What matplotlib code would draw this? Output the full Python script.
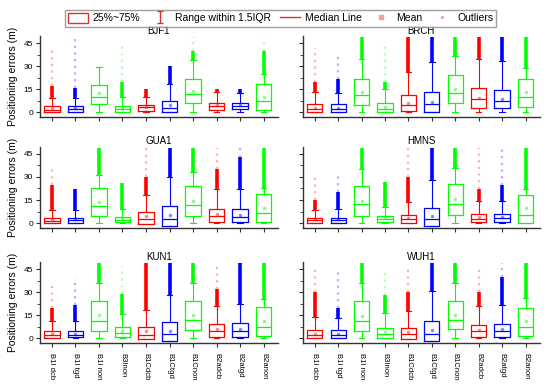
import numpy as np
import matplotlib
matplotlib.use("Agg")
import matplotlib.pyplot as plt
from matplotlib.patches import Patch
from matplotlib.lines import Line2D
from matplotlib.path import Path

plt.rcParams["font.family"] = ["Liberation Sans", "DejaVu Sans"]

stations = ["BJF1", "BRCH", "GUA1", "HMNS", "KUN1", "WUH1"]
categories = ["B1I dcb", "B1I tgd", "B1I non", "B3Inon", "B1Cdcb",
              "B1Ctgd", "B1Cnon", "B2adcb", "B2atgd", "B2anon"]
box_colors = ["#FF0000", "#0000FF", "#00FF00", "#00FF00", "#FF0000",
              "#0000FF", "#00FF00", "#FF0000", "#0000FF", "#00FF00"]

# quartiles per station (m)
q1 = [
    [0.3, 0.5, 5.4, 0.4, 1.0, 0.0, 5.8, 1.7, 2.1, 1.7],
    [0.0, 0.2, 4.8, 0.2, 0.6, 0.2, 5.9, 3.1, 2.7, 3.8],
    [0.0, 0.0, 4.5, 0.4, -0.6, -1.9, 4.9, 0.6, 0.6, 0.6],
    [0.0, 0.0, 4.9, 0.6, 0.0, -2.1, 5.1, 0.4, 0.6, 0.0],
    [0.4, 0.6, 4.5, 1.1, -0.6, -1.5, 5.4, 1.1, 1.1, 1.3],
    [0.0, 0.0, 4.7, 0.2, -0.4, -1.9, 5.8, 1.1, 0.9, 1.3],
]
med = [
    [1.8, 2.0, 10.3, 2.1, 3.2, 2.6, 11.8, 4.3, 4.3, 7.1],
    [2.1, 2.3, 11.1, 2.5, 5.0, 5.4, 12.8, 8.4, 7.5, 10.0],
    [1.5, 1.7, 11.4, 2.0, 2.8, 2.8, 12.0, 4.3, 4.1, 6.4],
    [1.9, 1.9, 12.2, 2.8, 2.4, 2.4, 12.2, 2.8, 3.2, 5.4],
    [2.1, 2.1, 11.1, 3.4, 2.4, 3.0, 12.2, 4.5, 4.7, 7.7],
    [2.1, 2.1, 11.3, 3.0, 2.8, 2.8, 12.2, 4.5, 4.7, 7.7],
]
q3 = [
    [4.0, 4.0, 17.8, 4.3, 4.7, 7.5, 21.6, 6.4, 6.4, 18.2],
    [5.4, 5.2, 22.0, 6.3, 11.1, 13.2, 24.3, 15.7, 14.9, 22.0],
    [3.4, 3.4, 22.5, 4.0, 6.9, 10.9, 23.8, 9.2, 9.2, 18.9],
    [3.4, 3.6, 24.0, 4.5, 5.4, 10.0, 25.3, 6.0, 6.2, 18.0],
    [4.7, 4.7, 24.4, 7.1, 7.1, 10.5, 24.6, 9.2, 9.9, 20.4],
    [5.5, 5.3, 24.5, 6.8, 7.0, 11.3, 24.1, 9.0, 9.2, 19.6],
]
whis_hi = [
    [9.5, 9.3, 29.6, 10.2, 10.3, 18.5, 33.9, 13.5, 12.9, 25.0],
    [13.5, 12.7, 35.0, 15.5, 26.0, 32.7, 37.0, 34.6, 33.2, 29.0],
    [8.5, 8.5, 31.0, 9.4, 18.1, 30.1, 33.0, 22.1, 22.1, 23.0],
    [8.5, 9.0, 35.0, 10.4, 13.5, 28.2, 36.0, 14.4, 14.6, 22.0],
    [11.2, 11.0, 36.0, 16.1, 18.7, 28.5, 36.0, 21.4, 22.1, 25.7],
    [13.8, 13.3, 35.8, 16.7, 18.1, 31.1, 36.0, 20.9, 21.6, 26.0],
]
means = [
    [2.8, 3.0, 12.5, 3.0, 3.5, 4.5, 14.0, 4.8, 4.8, 10.0],
    [3.0, 3.0, 13.0, 3.5, 6.2, 6.5, 15.0, 9.5, 8.5, 13.0],
    [2.5, 2.5, 13.5, 3.0, 4.5, 5.5, 14.5, 6.0, 5.5, 10.0],
    [2.5, 2.5, 14.5, 3.0, 3.5, 4.5, 15.5, 4.0, 4.0, 9.5],
    [3.0, 3.0, 15.0, 4.5, 4.5, 5.0, 15.5, 6.0, 6.0, 11.0],
    [3.0, 3.0, 14.5, 4.0, 4.0, 5.5, 15.5, 5.5, 6.0, 11.0],
]
# outliers: dense column up to out_dense, scattered up to out_max
out_dense = [
    [17, 16, 29.6, 20, 15, 30, 40, 15, 15, 40],
    [20, 22, 49, 20, 49, 49, 49, 49, 49, 49],
    [25, 22, 49, 26, 30, 49, 49, 35, 43, 49],
    [15, 20, 49, 27, 30, 49, 49, 22, 25, 49],
    [20, 22, 49, 29, 49, 49, 49, 32, 49, 49],
    [30, 20, 49, 28, 30, 49, 49, 30, 40, 49],
]
out_max = [
    [41, 48, 29.6, 46, 15, 30, 49, 15, 15, 49],
    [42, 37, 49, 43, 49, 49, 49, 49, 49, 49],
    [35, 22, 49, 26, 49, 49, 49, 49, 49, 49],
    [31, 31, 49, 27, 49, 49, 49, 49, 49, 49],
    [37, 39, 49, 47, 49, 49, 49, 49, 49, 49],
    [45, 45, 49, 45, 45, 49, 49, 45, 49, 49],
]

fig = plt.figure(figsize=(5.5, 3.91), dpi=100)
rows_bottom = [0.700, 0.417, 0.122]
lefts = [0.073, 0.551]
widths = [0.432, 0.43]
h = 0.207
pos = np.arange(1, len(categories) + 1)

for i, st in enumerate(stations):
    r, c = divmod(i, 2)
    ax = fig.add_axes([lefts[c], rows_bottom[r], widths[c], h])
    stats = []
    for j in range(len(categories)):
        stats.append(dict(q1=q1[i][j], med=med[i][j], q3=q3[i][j],
                          whislo=min(q1[i][j], 0.0), whishi=whis_hi[i][j],
                          mean=means[i][j], fliers=[]))
    bp = ax.bxp(stats, positions=pos, widths=0.65, showfliers=False,
                showmeans=True, patch_artist=False)
    for j, col in enumerate(box_colors):
        bp["boxes"][j].set(color=col, linewidth=0.9)
        bp["medians"][j].set(color=col, linewidth=0.9)
        bp["means"][j].set(marker="s", markersize=1.5, markerfacecolor=col,
                           markeredgecolor=col, alpha=0.35)
        for k in (2 * j, 2 * j + 1):
            bp["whiskers"][k].set(color=col, linewidth=0.8)
            bp["caps"][k].set(color=col, linewidth=0.8, xdata=[pos[j] - 0.12, pos[j] + 0.12])
        # outlier columns
        if out_dense[i][j] > whis_hi[i][j]:
            ax.vlines(pos[j], whis_hi[i][j], out_dense[i][j], color=col, linewidth=2.6)
        if out_max[i][j] > out_dense[i][j]:
            ax.vlines(pos[j], out_dense[i][j], out_max[i][j], color=col,
                      linewidth=1.6, alpha=0.3, linestyles=(0, (1, 2)))

    ax.set_xlim(0.5, 10.6)
    ax.set_ylim(-3.2, 49.5)
    ax.set_yticks([0, 15, 30, 45])
    ax.set_yticks([7.5, 22.5, 37.5], minor=True)
    ax.set_xticks(pos)
    for s in ("top", "right"):
        ax.spines[s].set_visible(False)
    for s in ("left", "bottom"):
        ax.spines[s].set_color("#333333")
        ax.spines[s].set_linewidth(1.0)
    ax.tick_params(axis="both", which="major", length=3, width=0.8,
                   direction="out", labelsize=6, color="#333333", pad=2)
    ax.tick_params(axis="y", which="minor", length=2, width=0.6, color="#333333")
    if r == 2:
        ax.set_xticklabels(categories, rotation=270, fontsize=5.5)
        ax.tick_params(axis="x", pad=4)
    else:
        ax.set_xticklabels([])
    if c == 1:
        ax.set_yticklabels([])
    else:
        ax.set_ylabel("Positioning errors (m)", fontsize=7.5, labelpad=4)
    ax.set_title(st, fontsize=7, pad=2)

# legend
iqr_marker = Path([(-0.5, 1), (0.5, 1), (0, 1), (0, -1), (-0.5, -1), (0.5, -1)],
                  [Path.MOVETO, Path.LINETO, Path.MOVETO, Path.LINETO, Path.MOVETO, Path.LINETO])
handles = [
    Patch(facecolor="none", edgecolor="#E03030", linewidth=1.0),
    Line2D([], [], linestyle="none", marker=iqr_marker, markersize=9,
           markerfacecolor="none", markeredgecolor="#E03030", markeredgewidth=1.0),
    Line2D([], [], color="#E03030", linewidth=1.0),
    Line2D([], [], linestyle="none", marker="s", markersize=2.5,
           color="#F0A0A0"),
    Line2D([], [], linestyle="none", marker=".", markersize=2.5,
           color="#F0A0A0"),
]
labels = ["25%~75%", "Range within 1.5IQR", "Median Line", "Mean", "Outliers"]
fig.legend(handles, labels, loc="center", bbox_to_anchor=(0.51, 0.953), ncol=5,
           fontsize=7.5, frameon=True, fancybox=False, edgecolor="#888888",
           handlelength=1.9, handleheight=1.0, columnspacing=0.9,
           handletextpad=0.5, borderpad=0.3, borderaxespad=0.0)

fig.savefig("out.png", dpi=100)
